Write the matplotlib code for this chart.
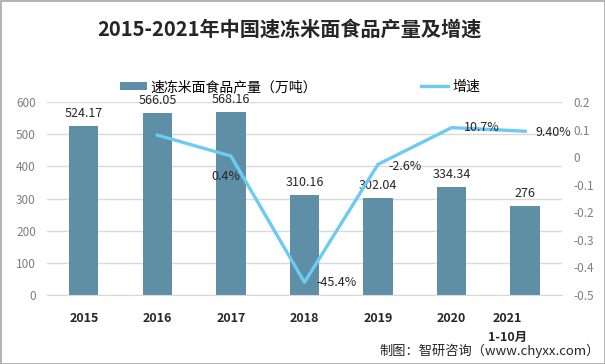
import numpy as np
import matplotlib
matplotlib.use('Agg')
import matplotlib.pyplot as plt
import matplotlib.transforms as mtransforms
from matplotlib.patches import Rectangle, Patch
from matplotlib.lines import Line2D

plt.rcParams['font.family'] = ['Noto Sans CJK SC', 'DejaVu Sans']

# Data.
years = ['2015', '2016', '2017', '2018', '2019', '2020', '2021\n1-10月']
output = [524.17, 566.05, 568.16, 310.16, 302.04, 334.34, 276]
output_labels = ['524.17', '566.05', '568.16', '310.16', '302.04', '334.34', '276']
growth = [np.nan, 0.080, 0.004, -0.454, -0.026, 0.107, 0.094]
growth_labels = ['', '', '0.4%', '-45.4%', '-2.6%', '10.7%', '9.40%']

bar_color = '#5E8FA7'
line_color = '#6CCBF2'
tick_color = '#7F7F7F'

fig = plt.figure(figsize=(6.05, 3.64), dpi=100)
ax = fig.add_axes([47/605, 1-295/364, (562-47)/605, (295-102)/364])
ax2 = ax.twinx()

x = np.arange(len(years))
bars = ax.bar(x, output, width=0.4, color=bar_color, zorder=2)
ax.set_xlim(-0.5, len(years)-0.5)
ax.set_ylim(0, 600)
ax.set_yticks(range(0, 601, 100))
ax.grid(axis='y', color='#D9D9D9', linewidth=1, zorder=0)
ax.set_axisbelow(True)
for s in ax.spines.values():
    s.set_visible(False)
ax.spines['bottom'].set_visible(True)
ax.spines['bottom'].set_color('#D9D9D9')
ax.tick_params(axis='y', length=0, labelsize=8.5, labelcolor=tick_color, pad=8)
ax.tick_params(axis='x', length=0, labelsize=9, pad=12)
ax.set_xticks(x)
ax.set_xticklabels(years, fontweight='bold', color='#262626', linespacing=1.6)
# the last category label sits a bit to the left of its bar
last = ax.get_xticklabels()[-1]
last.set_transform(last.get_transform() + mtransforms.ScaledTranslation(-18/100, 0, fig.dpi_scale_trans))

for b, lab in zip(bars, output_labels):
    ax.annotate(lab, (b.get_x() + b.get_width()/2, b.get_height()),
                xytext=(0, 6), textcoords='offset pixels',
                ha='center', va='bottom', fontsize=9, color='#262626')

ax2.plot(x, growth, color=line_color, linewidth=2.4, zorder=3)
ax2.set_ylim(-0.5, 0.2)
rticks = np.round(np.arange(-0.5, 0.21, 0.1), 1) + 0.0
ax2.set_yticks(rticks)
ax2.set_yticklabels([f'{v:g}' for v in rticks])
for s in ax2.spines.values():
    s.set_visible(False)
ax2.tick_params(axis='y', length=0, labelsize=8.5, labelcolor=tick_color, pad=8)

offsets = {2: (-5, -20, 'center'), 3: (12, 0, 'left'), 4: (10, -2, 'left'),
           5: (12, 0, 'left'), 6: (10, -1, 'left')}
for i, lab in enumerate(growth_labels):
    if not lab:
        continue
    dx, dy, ha = offsets[i]
    ax2.annotate(lab, (x[i], growth[i]), xytext=(dx, dy), textcoords='offset pixels',
                 ha=ha, va='center', fontsize=9, color='#262626')

fig.text(289/605, 1-29/364, '2015-2021年中国速冻米面食品产量及增速', ha='center', va='center',
         fontsize=14.5, fontweight='bold', color='#262626')

handles = [Patch(facecolor=bar_color), Line2D([0], [0], color=line_color, linewidth=2.4)]
fig.legend(handles, ['速冻米面食品产量（万吨）', '增速'], loc='center',
           bbox_to_anchor=(300/605, 1-87/364), ncol=2, frameon=False, fontsize=10,
           handlelength=1.9, handleheight=0.55, columnspacing=7.5, handletextpad=0.3,
           borderpad=0)

fig.text(600/605, 1-351/364, '制图：智研咨询（www.chyxx.com）', ha='right', va='center',
         fontsize=9.5, color='#262626')

fig.patches.append(Rectangle((0.5/605, 0.5/364), 1-1/605, 1-1/364, transform=fig.transFigure,
                             fill=False, edgecolor='#A6A6A6', linewidth=1.2))

fig.savefig('out.png', dpi=100)
